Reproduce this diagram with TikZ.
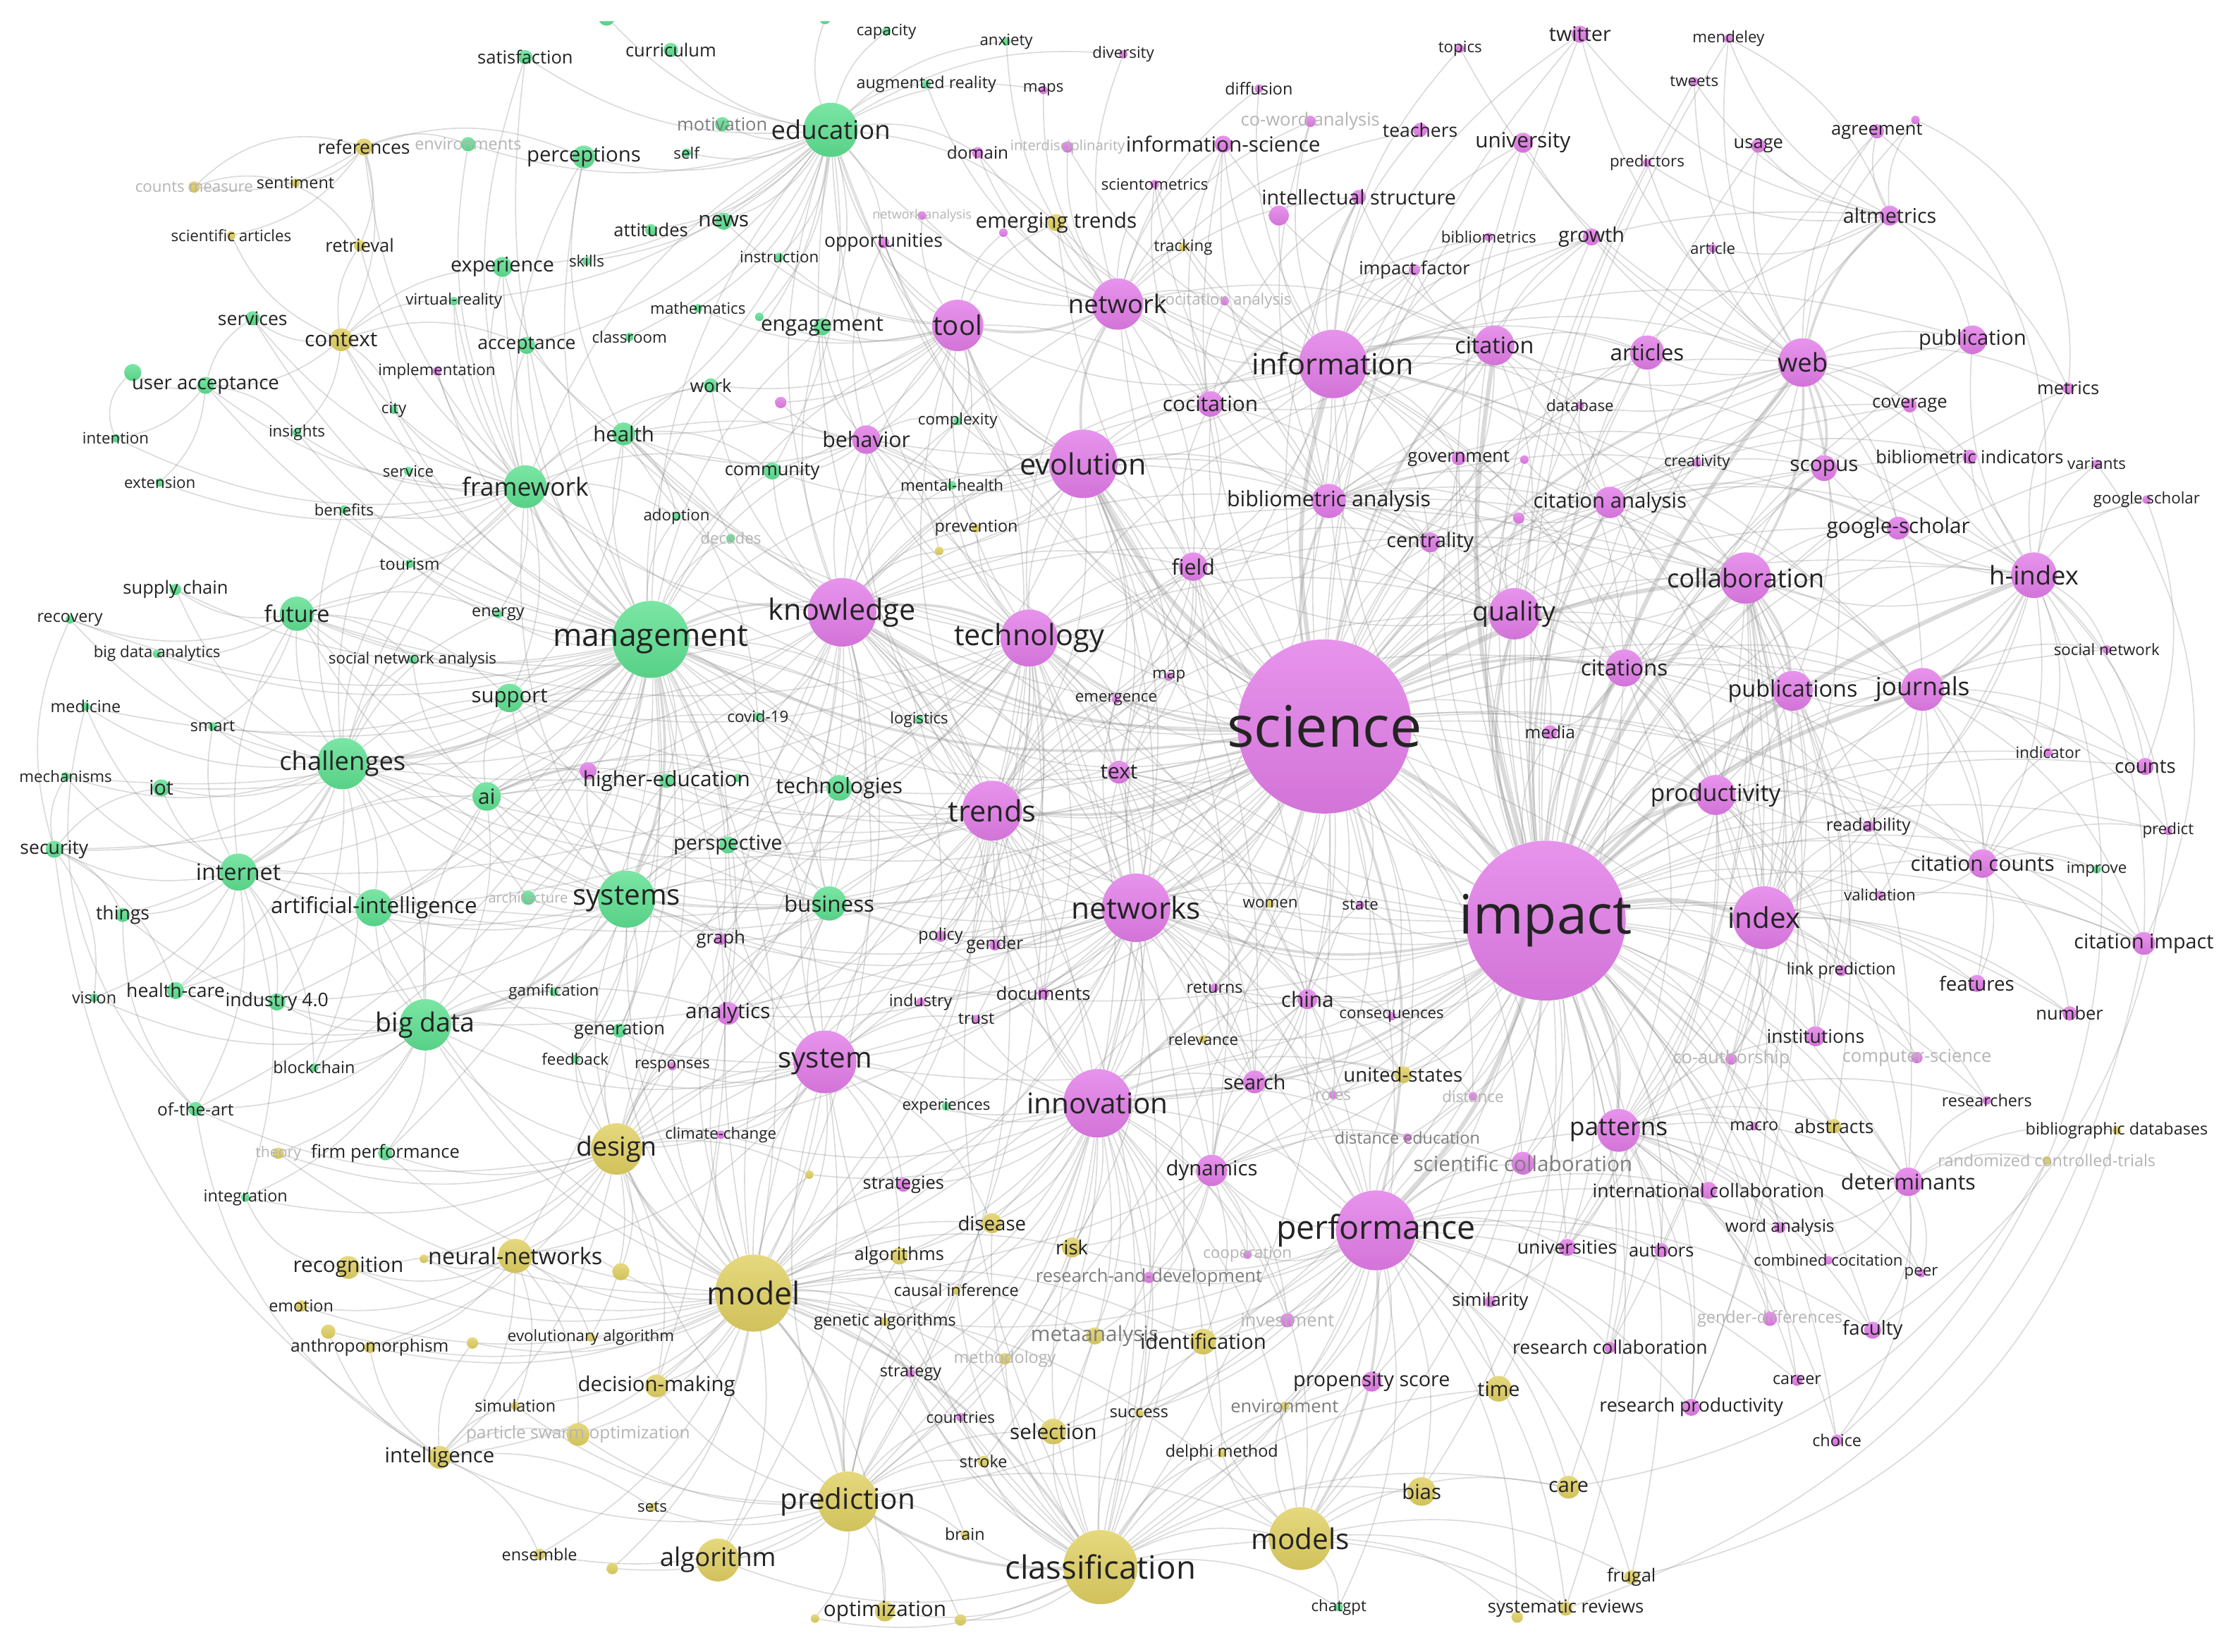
\documentclass[tikz,border=0pt]{standalone}
\usepackage{fontspec}
\setmainfont{Open Sans}
\pgfdeclarelayer{bg}
\pgfsetlayers{bg,main}
\definecolor{cg}{RGB}{94,224,145}
\definecolor{cm}{RGB}{226,124,232}
\definecolor{cy}{RGB}{224,208,98}
\definecolor{tk}{RGB}{35,35,35}
\definecolor{tm}{RGB}{125,125,125}
\definecolor{tf}{RGB}{180,180,180}
\newcommand\kwcircle[8]{\node[dot,top color=#5!82!white,bottom color=#5!93!black,minimum size=#4*2pt] (#1) at (#2,#3) {};}
\newcommand\kwlabel[8]{\pgfmathsetmacro\fsz{#6<14.5 ? #6*1.05 : #6}\node[lbl,text=#8,font=\fontsize{\fsz}{\fsz}\selectfont] (#1t) at (#2,#3) {#7};}
\newcommand\hub[3]{\foreach \x in {#3} {\draw[edge] (#1) to[bend left=#2] (\x);}}
\newcommand\nodelist{%
% ---------------- green cluster
\kwn{satisf}{368}{40}{5}{cg}{12}{satisfaction}{tk}
\kwn{curric}{470}{35}{5}{cg}{12}{curriculum}{tk}
\kwn{gtopa}{425}{12}{6}{cg}{11}{}{tk}
\kwn{gtopb}{578}{13}{4}{cg}{11}{}{tk}
\kwn{capacity}{621}{22}{3}{cg}{10.5}{capacity}{tk}
\kwn{anxiety}{705}{29}{3}{cg}{10.5}{anxiety}{tk}
\kwn{augreal}{649}{59}{3}{cg}{11}{augmented reality}{tk}
\kwn{motiv}{506}{87}{5}{cg}{12}{motivation}{tm}
\kwn{educ}{582}{91}{19}{cg}{18}{education}{tk}
\kwn{self}{481}{107}{3}{cg}{10.5}{self}{tk}
\kwn{environs}{328}{101}{5}{cg}{11}{environments}{tf}
\kwn{percep}{409}{110}{8}{cg}{14.5}{perceptions}{tk}
\kwn{attitudes}{456}{161}{4}{cg}{12}{attitudes}{tk}
\kwn{news}{507}{155}{6}{cg}{14}{news}{tk}
\kwn{instruct}{546}{180}{3}{cg}{10.5}{instruction}{tk}
\kwn{experience}{352}{187}{7}{cg}{13.5}{experience}{tk}
\kwn{skills}{411}{183}{3}{cg}{10.5}{skills}{tk}
\kwn{virtreal}{318}{211}{3}{cg}{10.5}{virtual-reality}{tk}
\kwn{math}{489}{216}{3}{cg}{10.5}{mathematics}{tk}
\kwn{gsmall}{532}{222}{3}{cg}{10.5}{}{tk}
\kwn{engage}{576}{229}{6}{cg}{14}{engagement}{tk}
\kwn{services}{177}{223}{5}{cg}{12.5}{services}{tk}
\kwn{accept}{369}{242}{6}{cg}{12.5}{acceptance}{tk}
\kwn{classroom}{441}{236}{3}{cg}{10.5}{classroom}{tk}
\kwn{useracc}{144}{270}{6}{cg}{13}{user acceptance}{tk}
\kwn{gua}{93}{261}{6}{cg}{11}{}{tk}
\kwn{city}{276}{287}{3}{cg}{10.5}{city}{tk}
\kwn{work}{498}{270}{5}{cg}{12}{work}{tk}
\kwn{complexity}{671}{295}{3}{cg}{10.5}{complexity}{tk}
\kwn{intention}{81}{307}{3}{cg}{10.5}{intention}{tk}
\kwn{insights}{208}{303}{3}{cg}{10.5}{insights}{tk}
\kwn{health}{437}{304}{8}{cg}{14.5}{health}{tk}
\kwn{service}{286}{330}{3}{cg}{10.5}{service}{tk}
\kwn{community}{541}{330}{6}{cg}{12}{community}{tk}
\kwn{mentalh}{667}{340}{3}{cg}{10.5}{mental-health}{tk}
\kwn{framework}{368}{341}{15}{cg}{17.5}{framework}{tk}
\kwn{extension}{112}{338}{3}{cg}{10.5}{extension}{tk}
\kwn{benefits}{241}{357}{3}{cg}{10.5}{benefits}{tk}
\kwn{adoption}{474}{362}{3}{cg}{10.5}{adoption}{tk}
\kwn{decades}{512}{377}{3}{cg}{10.5}{decades}{tf}
\kwn{tourism}{287}{395}{3}{cg}{11}{tourism}{tk}
\kwn{supply}{123}{413}{4}{cg}{12}{supply chain}{tk}
\kwn{future}{208}{430}{12}{cg}{16}{future}{tk}
\kwn{energy}{349}{430}{3}{cg}{11}{energy}{tk}
\kwn{management}{456}{448}{27}{cg}{22}{management}{tk}
\kwn{recovery}{49}{434}{3}{cg}{11}{recovery}{tk}
\kwn{bdanalytics}{110}{458}{3}{cg}{10.5}{big data analytics}{tk}
\kwn{sna}{289}{462}{3}{cg}{10.5}{social network analysis}{tk}
\kwn{support}{357}{489}{10}{cg}{14.5}{support}{tk}
\kwn{medicine}{60}{495}{3}{cg}{11}{medicine}{tk}
\kwn{smart}{149}{509}{3}{cg}{11}{smart}{tk}
\kwn{covid}{531}{502}{3}{cg}{10.5}{covid-19}{tk}
\kwn{logistics}{644}{504}{3}{cg}{10.5}{logistics}{tk}
\kwn{challenges}{240}{535}{18}{cg}{18}{challenges}{tk}
\kwn{mhe}{412}{540}{6}{cm}{10}{}{tk}
\kwn{highered}{467}{547}{5}{cg}{14}{higher-education}{tk}
\kwn{gsmb}{517}{545}{3}{cg}{10}{}{tk}
\kwn{technologies}{588}{552}{9}{cg}{15}{technologies}{tk}
\kwn{mechanisms}{46}{544}{3}{cg}{10.5}{mechanisms}{tk}
\kwn{iot}{113}{552}{6}{cg}{13.5}{iot}{tk}
\kwn{ai}{341}{558}{10}{cg}{14}{ai}{tk}
\kwn{security}{38}{595}{6}{cg}{12.5}{security}{tk}
\kwn{perspective}{510}{592}{6}{cg}{13.5}{perspective}{tk}
\kwn{internet}{167}{611}{13}{cg}{16}{internet}{tk}
\kwn{improve}{1469}{609}{3}{cg}{10.5}{improve}{tk}
\kwn{architecture}{370}{629}{5}{cg}{9.5}{architecture}{tf}
\kwn{systems}{439}{630}{20}{cg}{20}{systems}{tk}
\kwn{business}{581}{633}{12}{cg}{15.5}{business}{tk}
\kwn{aiint}{262}{636}{13}{cg}{15.5}{artificial-intelligence}{tk}
\kwn{things}{86}{641}{5}{cg}{12.5}{things}{tk}
\kwn{vision}{66}{699}{3}{cg}{11}{vision}{tk}
\kwn{healthcare}{123}{694}{6}{cg}{12.5}{health-care}{tk}
\kwn{industryf}{194}{702}{6}{cg}{12.5}{industry 4.0}{tk}
\kwn{gamif}{388}{695}{3}{cg}{10.5}{gamification}{tk}
\kwn{bigdata}{298}{718}{18}{cg}{18.5}{big data}{tk}
\kwn{generation}{434}{722}{5}{cg}{12}{generation}{tk}
\kwn{feedback}{403}{742}{3}{cg}{10.5}{feedback}{tk}
\kwn{blockchain}{220}{748}{3}{cg}{11}{blockchain}{tk}
\kwn{experiences}{663}{775}{3}{cg}{10.5}{experiences}{tk}
\kwn{ofart}{137}{777}{5}{cg}{11.5}{of-the-art}{tk}
\kwn{theory}{195}{808}{4}{cy}{10}{theory}{tf}
\kwn{firmperf}{270}{808}{5}{cg}{12}{firm performance}{tk}
\kwn{integration}{172}{839}{3}{cg}{11}{integration}{tk}
\kwn{chatgpt}{938}{1126}{3}{cg}{10.5}{chatgpt}{tk}
% ---------------- magenta cluster
\kwn{diversity}{787}{38}{3}{cm}{10.5}{diversity}{tk}
\kwn{maps}{731}{63}{3}{cm}{10.5}{maps}{tk}
\kwn{domain}{685}{107}{4}{cm}{11.5}{domain}{tk}
\kwn{interdisc}{748}{103}{4}{cm}{9.5}{interdisciplinarity}{tf}
\kwn{infosci}{857}{101}{6}{cm}{14}{information-science}{tk}
\kwn{coword}{918}{85}{4}{cm}{12}{co-word analysis}{tf}
\kwn{diffusion}{882}{62}{3}{cm}{11}{diffusion}{tk}
\kwn{topics}{1023}{34}{3}{cm}{10.5}{topics}{tk}
\kwn{twitter}{1107}{24}{6}{cm}{13.5}{twitter}{tk}
\kwn{mendeley}{1211}{27}{3}{cm}{10.5}{mendeley}{tk}
\kwn{tweets}{1187}{57}{3}{cm}{10.5}{tweets}{tk}
\kwn{teachers}{995}{91}{5}{cm}{12.5}{teachers}{tk}
\kwn{university}{1067}{100}{7}{cm}{14}{university}{tk}
\kwn{predictors}{1154}{114}{3}{cm}{10.5}{predictors}{tk}
\kwn{usage}{1232}{102}{5}{cm}{12}{usage}{tk}
\kwn{agreement}{1315}{92}{5}{cm}{12}{agreement}{tk}
\kwn{msma}{1342}{84}{3}{cm}{10}{}{tk}
\kwn{scientom}{809}{129}{3}{cm}{10.5}{scientometrics}{tk}
\kwn{intstruct}{952}{138}{5}{cm}{13.5}{intellectual structure}{tk}
\kwn{msmb}{896}{151}{7}{cm}{10}{}{tk}
\kwn{netanal}{646}{151}{3}{cm}{8.5}{network analysis}{tf}
\kwn{msmc}{703}{163}{3}{cm}{10}{}{tk}
\kwn{opport}{619}{170}{4}{cm}{12.5}{opportunities}{tk}
\kwn{bibliometrics}{1043}{166}{3}{cm}{10.5}{bibliometrics}{tk}
\kwn{growth}{1115}{166}{6}{cm}{13.5}{growth}{tk}
\kwn{article}{1200}{174}{3}{cm}{10.5}{article}{tk}
\kwn{altmetrics}{1324}{151}{7}{cm}{13.5}{altmetrics}{tk}
\kwn{impfactor}{991}{189}{4}{cm}{12}{impact factor}{tk}
\kwn{tool}{671}{228}{18}{cm}{19}{tool}{tk}
\kwn{network}{783}{213}{18}{cm}{18}{network}{tk}
\kwn{cocitanal}{858}{211}{3}{cm}{10.5}{cocitation analysis}{tf}
\kwn{information}{934}{255}{24}{cm}{20.5}{information}{tk}
\kwn{citation}{1047}{242}{14}{cm}{16}{citation}{tk}
\kwn{articles}{1154}{247}{12}{cm}{15.5}{articles}{tk}
\kwn{web}{1263}{254}{17}{cm}{18}{web}{tk}
\kwn{publication}{1382}{238}{10}{cm}{14.5}{publication}{tk}
\kwn{implementation}{306}{260}{3}{cm}{10.5}{implementation}{tk}
\kwn{minfosys}{547}{282}{4}{cm}{10}{}{tk}
\kwn{metrics}{1449}{272}{4}{cm}{12}{metrics}{tk}
\kwn{coverage}{1338}{284}{5}{cm}{12}{coverage}{tk}
\kwn{database}{1107}{284}{3}{cm}{10.5}{database}{tk}
\kwn{cocitation}{848}{283}{9}{cm}{14}{cocitation}{tk}
\kwn{behavior}{607}{308}{10}{cm}{15}{behavior}{tk}
\kwn{evolution}{759}{325}{24}{cm}{20.5}{evolution}{tk}
\kwn{government}{1022}{321}{5}{cm}{12}{government}{tk}
\kwn{msmd}{1068}{322}{3}{cm}{10}{}{tk}
\kwn{creativity}{1189}{324}{3}{cm}{10.5}{creativity}{tk}
\kwn{scopus}{1278}{328}{9}{cm}{14}{scopus}{tk}
\kwn{bibind}{1380}{320}{5}{cm}{12}{bibliometric indicators}{tk}
\kwn{variants}{1469}{325}{3}{cm}{10.5}{variants}{tk}
\kwn{bibanal}{931}{351}{12}{cm}{15}{bibliometric analysis}{tk}
\kwn{citanal}{1128}{352}{11}{cm}{14.5}{citation analysis}{tk}
\kwn{msme}{1064}{363}{4}{cm}{10}{}{tk}
\kwn{gscholarb}{1504}{350}{3}{cm}{10.5}{google scholar}{tk}
\kwn{gscholar}{1330}{370}{8}{cm}{14}{google-scholar}{tk}
\kwn{centrality}{1002}{380}{7}{cm}{13.5}{centrality}{tk}
\kwn{field}{836}{397}{10}{cm}{15}{field}{tk}
\kwn{knowledge}{590}{429}{24}{cm}{20.5}{knowledge}{tk}
\kwn{technology}{721}{447}{20}{cm}{20.5}{technology}{tk}
\kwn{quality}{1061}{430}{18}{cm}{18.5}{quality}{tk}
\kwn{collaboration}{1223}{405}{18}{cm}{18}{collaboration}{tk}
\kwn{hindex}{1425}{403}{16}{cm}{18}{h-index}{tk}
\kwn{map}{819}{474}{3}{cm}{10.5}{map}{tk}
\kwn{citations}{1138}{468}{13}{cm}{15.5}{citations}{tk}
\kwn{socialnet}{1476}{455}{3}{cm}{10.5}{social network}{tk}
\kwn{emergence}{782}{490}{3}{cm}{10.5}{emergence}{tk}
\kwn{science}{928}{509}{61}{cm}{40}{science}{tk}
\kwn{publications}{1256}{484}{14}{cm}{16}{publications}{tk}
\kwn{journals}{1347}{483}{15}{cm}{17.5}{journals}{tk}
\kwn{media}{1086}{513}{5}{cm}{11.5}{media}{tk}
\kwn{indicator}{1435}{527}{3}{cm}{10.5}{indicator}{tk}
\kwn{counts}{1503}{537}{6}{cm}{13}{counts}{tk}
\kwn{text}{784}{541}{8}{cm}{14}{text}{tk}
\kwn{trends}{695}{568}{21}{cm}{20.5}{trends}{tk}
\kwn{productivity}{1202}{557}{14}{cm}{16.5}{productivity}{tk}
\kwn{readability}{1309}{579}{4}{cm}{11.5}{readability}{tk}
\kwn{predict}{1519}{582}{3}{cm}{10.5}{predict}{tk}
\kwn{citcounts}{1389}{605}{10}{cm}{14}{citation counts}{tk}
\kwn{validation}{1317}{627}{3}{cm}{10.5}{validation}{tk}
\kwn{networks}{796}{636}{24}{cm}{21}{networks}{tk}
\kwn{state}{953}{634}{3}{cm}{10.5}{state}{tk}
\kwn{impact}{1083}{645}{56}{cm}{38}{impact}{tk}
\kwn{index}{1236}{643}{22}{cm}{20}{index}{tk}
\kwn{graph}{505}{658}{4}{cm}{12}{graph}{tk}
\kwn{policy}{659}{656}{4}{cm}{11}{policy}{tk}
\kwn{gender}{697}{662}{4}{cm}{11.5}{gender}{tk}
\kwn{citimpact}{1502}{661}{8}{cm}{13.5}{citation impact}{tk}
\kwn{linkpred}{1290}{680}{4}{cm}{11}{link prediction}{tk}
\kwn{features}{1385}{689}{6}{cm}{13}{features}{tk}
\kwn{documents}{731}{696}{4}{cm}{12}{documents}{tk}
\kwn{industry}{645}{702}{3}{cm}{11}{industry}{tk}
\kwn{returns}{851}{692}{3}{cm}{11}{returns}{tk}
\kwn{china}{916}{700}{7}{cm}{14}{china}{tk}
\kwn{analytics}{510}{710}{8}{cm}{14}{analytics}{tk}
\kwn{trust}{684}{714}{3}{cm}{11}{trust}{tk}
\kwn{consequences}{975}{712}{3}{cm}{10.5}{consequences}{tk}
\kwn{number}{1450}{710}{5}{cm}{12}{number}{tk}
\kwn{responses}{471}{747}{3}{cm}{10.5}{responses}{tk}
\kwn{system}{578}{744}{22}{cm}{20}{system}{tk}
\kwn{institutions}{1272}{726}{7}{cm}{12.5}{institutions}{tk}
\kwn{coauth}{1213}{742}{4}{cm}{12}{co-authorship}{tf}
\kwn{compsci}{1343}{741}{4}{cm}{12}{computer-science}{tf}
\kwn{search}{879}{758}{8}{cm}{13.5}{search}{tk}
\kwn{roles}{934}{767}{3}{cm}{10.5}{roles}{tf}
\kwn{distance}{1032}{768}{3}{cm}{10.5}{distance}{tf}
\kwn{innovation}{769}{773}{24}{cm}{20}{innovation}{tk}
\kwn{researchers}{1392}{771}{3}{cm}{11}{researchers}{tk}
\kwn{climate}{505}{795}{3}{cm}{10.5}{climate-change}{tk}
\kwn{patterns}{1134}{792}{15}{cm}{17.5}{patterns}{tk}
\kwn{macro}{1229}{789}{3}{cm}{11}{macro}{tk}
\kwn{distedu}{986}{797}{3}{cm}{11}{distance education}{tm}
\kwn{scicollab}{1067}{815}{8}{cm}{14}{scientific collaboration}{tm}
\kwn{dynamics}{849}{820}{11}{cm}{14.5}{dynamics}{tk}
\kwn{strategies}{633}{830}{5}{cm}{12}{strategies}{tk}
\kwn{determinants}{1337}{828}{10}{cm}{15}{determinants}{tk}
\kwn{intcollab}{1197}{834}{6}{cm}{12.5}{international collaboration}{tk}
\kwn{performance}{964}{862}{28}{cm}{23}{performance}{tk}
\kwn{wordanal}{1247}{860}{4}{cm}{11.5}{word analysis}{tk}
\kwn{cooperation}{874}{879}{3}{cm}{10.5}{cooperation}{tf}
\kwn{resdev}{805}{895}{4}{cm}{12}{research-and-development}{tm}
\kwn{universities}{1098}{874}{6}{cm}{12.5}{universities}{tk}
\kwn{authors}{1164}{876}{5}{cm}{12}{authors}{tk}
\kwn{combcocit}{1281}{883}{3}{cm}{10.5}{combined cocitation}{tk}
\kwn{peer}{1346}{892}{3}{cm}{10.5}{peer}{tk}
\kwn{similarity}{1044}{912}{4}{cm}{12}{similarity}{tk}
\kwn{genderdiff}{1240}{924}{5}{cm}{11}{gender-differences}{tf}
\kwn{faculty}{1312}{932}{6}{cm}{13}{faculty}{tk}
\kwn{investment}{902}{925}{5}{cm}{12}{investment}{tf}
\kwn{rescollab}{1128}{944}{4}{cm}{12.5}{research collaboration}{tk}
\kwn{strategy}{638}{962}{3}{cm}{11}{strategy}{tk}
\kwn{propensity}{961}{968}{7}{cm}{13.5}{propensity score}{tk}
\kwn{career}{1259}{967}{4}{cm}{11}{career}{tk}
\kwn{countries}{673}{993}{3}{cm}{10.5}{countries}{tk}
\kwn{resprod}{1185}{986}{6}{cm}{12.5}{research productivity}{tk}
\kwn{choice}{1287}{1009}{4}{cm}{11}{choice}{tk}
% ---------------- yellow cluster
\kwn{references}{255}{103}{6}{cy}{12.5}{references}{tk}
\kwn{countsm}{136}{131}{4}{cy}{10.5}{counts measure}{tf}
\kwn{sentiment}{207}{128}{3}{cy}{11}{sentiment}{tk}
\kwn{sciarticles}{162}{165}{3}{cy}{10.5}{scientific articles}{tk}
\kwn{retrieval}{252}{172}{4}{cy}{12}{retrieval}{tk}
\kwn{emerging}{740}{156}{6}{cy}{14}{emerging trends}{tk}
\kwn{tracking}{829}{173}{3}{cy}{10.5}{tracking}{tk}
\kwn{context}{239}{238}{8}{cy}{14}{context}{tk}
\kwn{prevention}{684}{370}{3}{cy}{11}{prevention}{tk}
\kwn{ysma}{658}{386}{3}{cy}{10}{}{tk}
\kwn{women}{890}{633}{3}{cy}{10.5}{women}{tk}
\kwn{relevance}{843}{728}{3}{cy}{10.5}{relevance}{tk}
\kwn{unitedstates}{983}{753}{6}{cy}{13}{united-states}{tk}
\kwn{design}{432}{805}{18}{cy}{18.5}{design}{tk}
\kwn{abstracts}{1285}{789}{5}{cy}{12.5}{abstracts}{tk}
\kwn{bibdb}{1483}{792}{3}{cy}{11}{bibliographic databases}{tk}
\kwn{ysmb}{567}{823}{3}{cy}{10}{}{tk}
\kwn{rct}{1434}{813}{3}{cy}{11}{randomized controlled-trials}{tf}
\kwn{disease}{695}{857}{7}{cy}{13}{disease}{tk}
\kwn{recognition}{244}{888}{8}{cy}{14}{recognition}{tk}
\kwn{ysmc}{297}{882}{3}{cy}{10}{}{tk}
\kwn{neuralnet}{361}{880}{12}{cy}{16}{neural-networks}{tk}
\kwn{ysmd}{435}{891}{6}{cy}{10}{}{tk}
\kwn{algorithms}{630}{880}{6}{cy}{12}{algorithms}{tk}
\kwn{risk}{751}{874}{7}{cy}{13}{risk}{tk}
\kwn{model}{528}{906}{27}{cy}{22}{model}{tk}
\kwn{causal}{670}{904}{3}{cy}{11}{causal inference}{tk}
\kwn{emotion}{211}{915}{4}{cy}{11}{emotion}{tk}
\kwn{genetic}{620}{926}{3}{cy}{11}{genetic algorithms}{tk}
\kwn{ysme}{230}{933}{5}{cy}{10}{}{tk}
\kwn{anthro}{259}{944}{4}{cy}{11.5}{anthropomorphism}{tk}
\kwn{ysmf}{331}{941}{4}{cy}{10}{}{tk}
\kwn{evolalg}{414}{937}{3}{cy}{10.5}{evolutionary algorithm}{tk}
\kwn{methodology}{704}{952}{4}{cy}{11}{methodology}{tf}
\kwn{metaanal}{767}{936}{6}{cy}{14}{metaanalysis}{tm}
\kwn{identification}{843}{940}{9}{cy}{14.5}{identification}{tk}
\kwn{decisionmaking}{460}{971}{8}{cy}{14.5}{decision-making}{tk}
\kwn{time}{1050}{973}{9}{cy}{13.5}{time}{tk}
\kwn{simulation}{361}{985}{3}{cy}{11}{simulation}{tk}
\kwn{environment}{900}{985}{3}{cy}{12}{environment}{tm}
\kwn{success}{798}{990}{3}{cy}{11}{success}{tk}
\kwn{selection}{738}{1003}{9}{cy}{14}{selection}{tk}
\kwn{pso}{405}{1005}{8}{cy}{11.5}{particle swarm optimization}{tf}
\kwn{intelligence}{308}{1021}{8}{cy}{14.5}{intelligence}{tk}
\kwn{stroke}{689}{1024}{4}{cy}{11}{stroke}{tk}
\kwn{delphi}{856}{1018}{3}{cy}{11}{delphi method}{tk}
\kwn{bias}{996}{1045}{10}{cy}{14.5}{bias}{tk}
\kwn{care}{1099}{1042}{8}{cy}{13.5}{care}{tk}
\kwn{sets}{457}{1056}{3}{cy}{10.5}{sets}{tk}
\kwn{prediction}{594}{1052}{21}{cy}{20}{prediction}{tk}
\kwn{brain}{676}{1075}{3}{cy}{11}{brain}{tk}
\kwn{models}{911}{1078}{22}{cy}{20}{models}{tk}
\kwn{ensemble}{378}{1089}{4}{cy}{11}{ensemble}{tk}
\kwn{ysmg}{429}{1099}{4}{cy}{10}{}{tk}
\kwn{algorithm}{503}{1093}{15}{cy}{18}{algorithm}{tk}
\kwn{classification}{771}{1098}{26}{cy}{22.5}{classification}{tk}
\kwn{frugal}{1143}{1105}{5}{cy}{12}{frugal}{tk}
\kwn{optimization}{620}{1129}{7}{cy}{14}{optimization}{tk}
\kwn{ysmh}{571}{1134}{3}{cy}{10}{}{tk}
\kwn{ysmi}{673}{1135}{4}{cy}{10}{}{tk}
\kwn{ysmj}{1063}{1133}{4}{cy}{10}{}{tk}
\kwn{sysrev}{1097}{1127}{5}{cy}{12}{systematic reviews}{tk}
}
\begin{document}
\begin{tikzpicture}[x=1pt,y=-1pt,
  dot/.style={circle,inner sep=0pt,draw=none},
  lbl/.style={inner sep=0pt,anchor=center},
  edge/.style={draw=black!42,line width=0.8pt,opacity=0.34}]
\useasboundingbox (0,0) rectangle (1568,1157);
\begin{scope}
\clip (0,15) rectangle (1568,1143);
\let\kwn\kwcircle
\nodelist
\end{scope}
\let\kwn\kwlabel
\nodelist
% ================= edges
\begin{pgfonlayer}{bg}
\fill[white] (0,0) rectangle (1568,1157);
\begin{scope}
\clip (0,15) rectangle (1568,1143);
\foreach \a/\b in {science/impact,science/information,impact/index,impact/journals,impact/web,impact/hindex,impact/performance,science/collaboration,science/evolution,impact/collaboration,science/quality,impact/citation}
  {\draw[edge,line width=3pt] (\a) to[bend left=12] (\b);}
\foreach \a/\b in {science/management,science/knowledge,science/technology,science/networks,science/trends,science/innovation,science/performance,science/bibanal,science/citation,science/web,impact/productivity,impact/citations,impact/publications,impact/quality,impact/networks,impact/innovation,impact/patterns,management/knowledge,management/systems,management/framework,knowledge/technology,model/classification,model/prediction,model/design,information/citation,web/altmetrics,web/scopus,hindex/journals,collaboration/publications,performance/models,classification/prediction,evolution/network,network/tool,management/challenges,systems/bigdata,challenges/internet,impact/citanal,science/citations,web/collaboration}
  {\draw[edge,line width=1.8pt] (\a) to[bend left=16] (\b);}
\hub{science}{18}{evolution,networks,knowledge,technology,trends,collaboration,citations,productivity,journals,publications,index,hindex,field,text,network,tool,patterns,citanal,articles,altmetrics,scopus,growth,university,infosci,cocitation,centrality,china,dynamics,search,systems,system,model,educ,framework,challenges,bigdata,business,technologies,behavior,classification,prediction,models,design,media,map,emergence,government,intstruct,impfactor,twitter,publication,gscholar,citcounts,citimpact,determinants,scicollab,universities,intcollab,women,state,consequences,unitedstates,returns,emerging,opport,health,support,aiint,internet,logistics,covid,highered,perspective,analytics,documents,gender,policy,relevance,roles,distance,msme,msmd,database,creativity,coverage,bibind,readability,counts}
\hub{impact}{18}{information,evolution,networks,knowledge,technology,trends,citations,productivity,publications,bibanal,field,network,innovation,patterns,citanal,articles,altmetrics,scopus,growth,gscholar,citcounts,citimpact,counts,readability,features,number,institutions,determinants,intcollab,wordanal,universities,authors,rescollab,resprod,faculty,similarity,time,propensity,bias,models,classification,model,system,systems,management,china,search,unitedstates,dynamics,identification,selection,care,publication,metrics,coverage,bibind,gscholarb,socialnet,indicator,linkpred,validation,compsci,coauth,researchers,abstracts,macro,sysrev,frugal,media,state,consequences,distance,scicollab,distedu,text,centrality,quality,university,twitter,usage,tweets,mendeley,agreement,article,predictors,database,creativity,government,msme,msmd,variants,predict,improve,choice,career,peer,combcocit,genderdiff,roles,women,returns,relevance}
\hub{management}{18}{challenges,future,support,health,educ,percep,bigdata,ai,internet,aiint,business,technologies,technology,innovation,system,performance,model,design,trends,networks,evolution,tool,experience,accept,engage,community,work,sna,energy,tourism,highered,perspective,covid,logistics,services,context,useracc,smart,iot,security,healthcare,industryf,blockchain,supply,bdanalytics,firmperf,ofart,gamif,generation,feedback,analytics,neuralnet,decisionmaking,satisf,mhe,architecture,graph,behavior,benefits,city,service,insights,implementation,virtreal,adoption,decades,recovery,medicine,mechanisms}
\hub{knowledge}{18}{trends,evolution,network,tool,information,innovation,networks,system,systems,business,technologies,educ,behavior,cocitation,bibanal,field,text,model,design,performance,collaboration,quality,framework,health,challenges,future,support,ai,highered,perspective,policy,gender,analytics,graph,documents,covid,logistics,community,mentalh,prevention,ysma,work,engage,complexity,decades}
\hub{technology}{18}{trends,evolution,network,innovation,networks,system,systems,business,technologies,educ,behavior,tool,model,design,classification,prediction,future,challenges,bigdata,aiint,internet,support,accept,engage,health,text,field,map,emergence,logistics,performance,quality,collaboration,citation,industry,trust,documents,gender,policy,mentalh,prevention}
\hub{information}{18}{cocitation,bibanal,intstruct,infosci,impfactor,network,evolution,articles,web,citations,collaboration,quality,citanal,centrality,field,tool,growth,university,teachers,coword,diffusion,bibliometrics,database,government,scientom,domain,topics,twitter,altmetrics,publication,msmb,cocitanal,tracking,emerging,interdisc,behavior,networks,trends,productivity,journals,hindex,index}
\hub{evolution}{18}{tool,networks,behavior,trends,cocitation,field,bibanal,innovation,dynamics,complexity,mentalh,prevention,text,search,china,emergence,map,technologies,educ,opport,community,ysma,citation,centrality,quality}
\hub{tool}{18}{behavior,opport,engage,educ,emerging,complexity,work,community,mentalh,health,minfosys,instruct,gsmall,math,news,netanal,msmc,trends,cocitation}
\hub{network}{18}{cocitation,infosci,intstruct,emerging,tracking,opport,netanal,domain,maps,diffusion,cocitanal,scientom,msmc,interdisc,coword,teachers,diversity,anxiety,augreal,educ,citation,bibanal,field}
\hub{networks}{18}{innovation,system,trends,text,dynamics,search,china,women,state,returns,policy,gender,documents,trust,industry,performance,relevance,unitedstates,roles,consequences,model,classification,prediction,analytics,business,systems,technologies,perspective,graph,risk,disease,strategies,experiences,field,emergence,map}
\hub{innovation}{18}{system,performance,dynamics,search,risk,disease,strategies,experiences,classification,model,prediction,selection,identification,resdev,algorithms,causal,genetic,metaanal,success,delphi,models,unitedstates,distedu,china,methodology,strategy,countries,stroke,climate,ysmb,trends,documents,trust,industry,relevance,cooperation,investment}
\hub{performance}{18}{dynamics,classification,bias,time,similarity,propensity,universities,authors,scicollab,patterns,identification,investment,cooperation,environment,delphi,success,selection,resdev,rescollab,resprod,care,prediction,model,sysrev,frugal,chatgpt,distedu,distance,risk,search,unitedstates,china,metaanal,intcollab,wordanal,genderdiff,career,faculty,ysmj}
\hub{model}{18}{algorithm,neuralnet,decisionmaking,system,systems,bigdata,intelligence,recognition,algorithms,causal,genetic,strategy,evolalg,simulation,pso,sets,ensemble,ysmg,optimization,selection,models,identification,metaanal,disease,risk,strategies,climate,ysmb,anthro,emotion,ysmd,ysmc,countries,stroke,brain,trends,innovation,methodology,analytics,generation,feedback,responses,ysme,ysmf,theory,firmperf,aiint,business,graph,knowledge}
\hub{classification}{18}{models,algorithm,optimization,selection,identification,bias,brain,stroke,countries,success,delphi,metaanal,risk,disease,algorithms,ysmi,ysmh,chatgpt,time,care,sysrev,environment,propensity,causal,genetic,strategy,methodology,dynamics,system,trends}
\hub{prediction}{18}{algorithm,models,optimization,sets,ensemble,stroke,brain,selection,countries,strategy,intelligence,pso,decisionmaking,simulation,ysmg,ysmh,ysmi,genetic,causal,algorithms,disease,system,design}
\hub{design}{18}{neuralnet,recognition,decisionmaking,climate,system,systems,bigdata,firmperf,theory,ysmb,analytics,generation,feedback,responses,intelligence,ysmd,evolalg,anthro,ysmc,trends,technologies,business,integration,ofart}
\hub{systems}{18}{aiint,internet,business,system,challenges,ai,support,framework,gamif,generation,feedback,graph,analytics,architecture,perspective,highered,technologies,mhe,gsmb,covid,future,healthcare}
\hub{challenges}{18}{future,iot,aiint,bigdata,ai,support,smart,security,things,healthcare,industryf,mechanisms,medicine,sna,energy,framework,tourism,supply,bdanalytics,recovery,health,architecture,blockchain,benefits,service}
\hub{internet}{18}{iot,things,security,healthcare,vision,aiint,bigdata,smart,industryf,blockchain,ofart,integration,mechanisms,medicine,future,ai}
\hub{bigdata}{18}{aiint,healthcare,industryf,blockchain,ofart,firmperf,integration,gamif,generation,feedback,analytics,ai,theory,things,vision}
\hub{framework}{18}{health,experience,accept,context,services,useracc,insights,city,service,benefits,implementation,virtreal,percep,educ,work,community,adoption,intention,extension,satisf,environs,references,retrieval,future,support,tourism,energy}
\hub{educ}{18}{percep,motiv,self,curric,satisf,news,attitudes,instruct,engage,math,classroom,work,capacity,anxiety,augreal,environs,skills,experience,gtopa,gtopb,domain,opport,diversity,maps,emerging,health,community,accept,virtreal,gsmall}
\hub{web}{18}{usage,agreement,twitter,mendeley,tweets,coverage,publication,metrics,bibind,hindex,articles,citation,citations,journals,publications,index,msma,predictors,article,growth,database,creativity,gscholar,university,topics,citanal}
\hub{hindex}{18}{publications,index,citcounts,counts,indicator,socialnet,gscholarb,variants,metrics,bibind,citimpact,predict,publication,coverage,scopus,gscholar,productivity,collaboration,readability}
\hub{collaboration}{18}{productivity,patterns,citations,intcollab,scicollab,rescollab,resprod,coauth,institutions,universities,authors,determinants,macro,abstracts,gscholar,citanal,quality,journals,scopus,articles}
\hub{index}{18}{journals,productivity,citcounts,readability,validation,linkpred,features,institutions,coauth,compsci,researchers,number,citimpact,publications,patterns}
\hub{patterns}{18}{determinants,intcollab,scicollab,macro,abstracts,universities,authors,wordanal,combcocit,peer,faculty,genderdiff,career,resprod,rescollab,choice,researchers,institutions,similarity}
\hub{citation}{18}{cocitation,citanal,citations,articles,bibanal,centrality,impfactor,bibliometrics,growth,database,quality,intstruct,infosci}
\hub{quality}{18}{citations,citanal,centrality,media,government,msme,productivity,field,bibanal,publications}
\hub{trends}{20}{educ,tool,behavior,field,text,bibanal,citanal,quality,citations,productivity,business,technologies,system,model,classification,prediction,design,challenges,future,dynamics,search,china,documents,policy,gender,analytics,perspective,highered,logistics,covid,emergence,map}
\hub{system}{20}{model,design,analytics,generation,feedback,responses,climate,strategies,algorithms,disease,business,technologies,perspective,graph,industry,trust,documents,experiences,bigdata,aiint,decisionmaking,neuralnet,algorithm}
\hub{bibanal}{20}{citanal,centrality,field,cocitation,intstruct,infosci,government,msme,citations,collaboration,productivity,publications,journals,growth,bibliometrics,scientom,coword,web,scopus,gscholar}
\hub{citanal}{20}{centrality,citations,productivity,publications,journals,hindex,gscholar,scopus,bibind,coverage,database,creativity,msmd,msme,index}
\hub{citations}{20}{productivity,publications,journals,index,hindex,media,readability,citcounts,patterns,performance}
\hub{productivity}{20}{publications,journals,index,readability,citcounts,linkpred,validation,patterns,determinants,universities,resprod,institutions}
\hub{journals}{20}{publications,index,citcounts,counts,indicator,socialnet,readability,validation,citimpact,features,predict}
\hub{publications}{20}{index,patterns,institutions,coauth,linkpred}
\hub{field}{20}{text,map,emergence,cocitation,centrality,technology,networks}
\hub{text}{20}{map,emergence,networks,women,state,china,search,innovation}
\hub{dynamics}{20}{search,china,unitedstates,distedu,scicollab,resdev,cooperation,investment,identification,metaanal,risk,models}
\hub{business}{20}{technologies,perspective,analytics,graph,innovation,support,ai,challenges,future,logistics,covid}
\hub{behavior}{20}{health,work,community,mentalh,complexity,prevention,ysma,minfosys,opport,engage}
\hub{ai}{20}{aiint,support,bigdata,highered,mhe,gsmb,perspective,technologies,covid,sna}
\hub{future}{20}{support,energy,tourism,supply,sna,bdanalytics,smart,recovery}
\hub{health}{20}{work,community,adoption,decades,mentalh,covid,support,percep,experience}
\hub{china}{20}{search,unitedstates,state,returns,consequences,roles,distance,relevance}
\hub{search}{20}{unitedstates,roles,relevance,returns}
\hub{cocitation}{20}{intstruct,infosci,cocitanal,scientom,bibliometrics,impfactor,field,centrality}
\hub{references}{20}{countsm,sentiment,sciarticles,retrieval,context,environs,percep}
\hub{context}{20}{services,useracc,retrieval,insights,city,sciarticles,experience,virtreal,accept}
\hub{useracc}{20}{intention,gua,extension,services,insights}
\hub{security}{20}{things,vision,mechanisms,iot,healthcare}
\hub{altmetrics}{20}{agreement,usage,twitter,tweets,mendeley,msma,article,predictors,publication,metrics}
\hub{citcounts}{20}{improve,predict,counts,indicator,citimpact,features,validation,number,readability}
\hub{determinants}{20}{faculty,peer,combcocit,wordanal,macro,abstracts,researchers,bibdb,rct,choice}
\hub{neuralnet}{20}{recognition,ysmc,ysmd,emotion,anthro,evolalg,simulation,intelligence,pso}
\hub{intelligence}{20}{pso,simulation,anthro,ensemble,sets,ysmf,ysme}
\hub{models}{20}{bias,care,time,propensity,environment,delphi,frugal,sysrev,ysmj,chatgpt,identification}
% outer arcs
\draw[edge] (security) to[bend right=25] (intelligence);
\draw[edge] (medicine) to[bend right=30] (ofart);
\draw[edge] (ofart) to[bend right=25] (intelligence);
\draw[edge] (recovery) to[bend right=20] (security);
\draw[edge] (gua) to[bend right=35] (intention);
\draw[edge] (countsm) to[bend left=40] (retrieval);
\draw[edge] (countsm) to[bend left=30] (references);
\draw[edge] (citimpact) to[bend left=30] (sysrev);
\draw[edge] (bibdb) to[bend left=30] (frugal);
\draw[edge] (hindex) to[bend left=35] (choice);
\draw[edge] (predict) to[bend left=25] (faculty);
\draw[edge] (gscholarb) to[bend left=20] (counts);
\draw[edge] (agreement) to[bend left=30] (hindex);
\draw[edge] (msma) to[bend left=35] (metrics);
\draw[edge] (mendeley) to[bend left=20] (altmetrics);
\draw[edge] (variants) to[bend left=30] (citimpact);
\draw[edge] (rct) to[bend left=25] (care);
\draw[edge] (integration) to[bend right=30] (recognition);
\draw[edge] (things) to[bend right=20] (ofart);
\end{scope}
\end{pgfonlayer}
\end{tikzpicture}
\end{document}
